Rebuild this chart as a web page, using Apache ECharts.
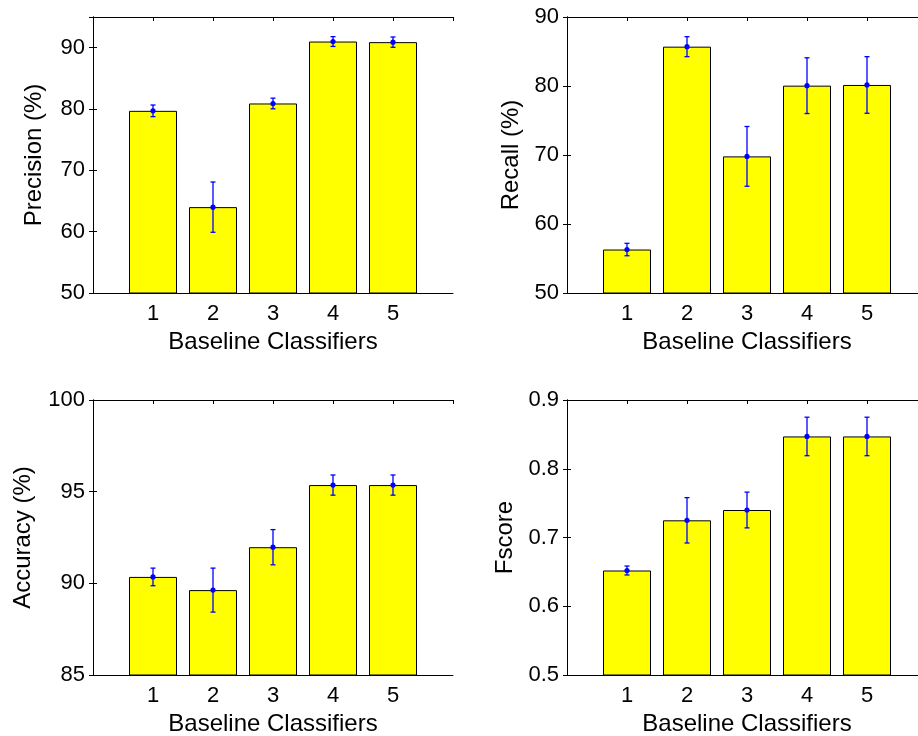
<!DOCTYPE html>
<html>
<head>
<meta charset="utf-8">
<script src="https://cdn.jsdelivr.net/npm/echarts@6/dist/echarts.min.js"></script>
<style>
  html, body { margin: 0; padding: 0; background: #fff; }
  #main { width: 918px; height: 736px; }
</style>
</head>
<body>
<div id="main"></div>
<script>
var classifiers = ['1', '2', '3', '4', '5'];

var precision = [79.7, 64.0, 80.9, 91.0, 90.9];
var precision_err = [0.95, 4.1, 0.87, 0.8, 0.84];

var recall = [56.3, 85.7, 69.8, 80.05, 80.15];
var recall_err = [0.9, 1.45, 4.33, 4.04, 4.1];

var accuracy = [90.35, 89.63, 91.97, 95.36, 95.36];
var accuracy_err = [0.48, 1.2, 0.96, 0.55, 0.55];

var fscore = [0.652, 0.725, 0.740, 0.847, 0.847];
var fscore_err = [0.0065, 0.033, 0.026, 0.028, 0.028];

var FONT = 'Liberation Sans, Arial, sans-serif';

// plot boxes, matlab style subplot(2,2,k)
var panels = [
    {name: 'Precision (%)', vals: precision, errs: precision_err, min: 50, max: 95, step: 10, gap: 47, left: 93, top: 17, height: 276},
    {name: 'Recall (%)', vals: recall, errs: recall_err, min: 50, max: 90, step: 10, gap: 44, left: 567, top: 17, height: 276},
    {name: 'Accuracy (%)', vals: accuracy, errs: accuracy_err, min: 85, max: 100, step: 5, gap: 58, left: 93, top: 400, height: 275},
    {name: 'Fscore', vals: fscore, errs: fscore_err, min: 0.5, max: 0.9, step: 0.1, gap: 50, left: 567, top: 400, height: 275}
];

function renderErr(params, api){
    var x = api.value(0), m = api.value(1), e = api.value(2);
    var hi = api.coord([x, m + e]);
    var lo = api.coord([x, m - e]);
    var mid = api.coord([x, m]);
    var cap = 2.5;
    var st = {stroke: '#0000ff', lineWidth: 1.3};
    return {
        type: 'group',
        children: [
            {type: 'line', shape: {x1: hi[0], y1: hi[1], x2: lo[0], y2: lo[1]}, style: st},
            {type: 'line', shape: {x1: hi[0] - cap, y1: hi[1], x2: hi[0] + cap, y2: hi[1]}, style: st},
            {type: 'line', shape: {x1: lo[0] - cap, y1: lo[1], x2: lo[0] + cap, y2: lo[1]}, style: st},
            {type: 'circle', shape: {cx: mid[0], cy: mid[1], r: 2.6}, style: {fill: '#0000ff'}}
        ]
    };
}

var option = {
    animation: false,
    backgroundColor: '#fff',
    grid: [],
    xAxis: [],
    yAxis: [],
    series: []
};

var lineSt = {show: true, lineStyle: {color: '#000', width: 1}};

for (var i = 0; i < panels.length; i++) {
    var p = panels[i];
    option.grid.push({left: p.left, top: p.top, width: 360, height: p.height, outerBoundsMode: 'none', containLabel: false});

    // bottom axis with labels, top axis only for the inward ticks
    option.xAxis.push({
        type: 'value', gridIndex: i, min: 0, max: 6, interval: 1, position: 'bottom',
        axisLine: lineSt, axisTick: {show: false}, splitLine: {show: false},
        axisLabel: {
            color: '#000', fontFamily: FONT, fontSize: 22, margin: 10,
            formatter: function(v){ return (v >= 1 && v <= classifiers.length) ? classifiers[v - 1] : ''; }
        },
        name: 'Baseline Classifiers', nameLocation: 'middle', nameGap: 37,
        nameTextStyle: {color: '#000', fontFamily: FONT, fontSize: 24}
    });
    option.xAxis.push({
        type: 'value', gridIndex: i, min: 0, max: 6, interval: 1, position: 'top',
        axisLine: lineSt, axisTick: {show: true, inside: true, length: 4, lineStyle: {color: '#000'}},
        axisLabel: {show: false}, splitLine: {show: false}
    });

    var step = p.step;
    var pmin = p.min;
    option.yAxis.push({
        type: 'value', gridIndex: i, min: p.min, max: p.max, interval: p.step, position: 'left',
        axisLine: lineSt, axisTick: {show: true, inside: true, length: 4, lineStyle: {color: '#000'}},
        splitLine: {show: false},
        axisLabel: {
            color: '#000', fontFamily: FONT, fontSize: 22, margin: 8,
            formatter: (function(s, mn){
                return function(v){
                    var k = Math.round((v - mn) / s);
                    if (Math.abs(mn + k * s - v) > 1e-6) return '';
                    return s < 1 ? v.toFixed(1) : String(Math.round(v));
                };
            })(step, pmin)
        },
        name: p.name, nameLocation: 'middle', nameGap: p.gap, nameRotate: 90,
        nameTextStyle: {color: '#000', fontFamily: FONT, fontSize: 24}
    });
    option.yAxis.push({
        type: 'value', gridIndex: i, min: p.min, max: p.max, interval: p.step, position: 'right',
        axisLine: lineSt, axisTick: {show: true, inside: true, length: 4, lineStyle: {color: '#000'}},
        axisLabel: {show: false}, splitLine: {show: false}
    });

    var barData = [], errData = [];
    for (var j = 0; j < classifiers.length; j++) {
        barData.push([j + 1, p.vals[j]]);
        errData.push([j + 1, p.vals[j], p.errs[j]]);
    }
    option.series.push({
        type: 'bar', xAxisIndex: i * 2, yAxisIndex: i * 2, data: barData, barWidth: 48,
        itemStyle: {color: '#ffff00', borderColor: '#000', borderWidth: 1}
    });
    option.series.push({
        type: 'custom', xAxisIndex: i * 2, yAxisIndex: i * 2, data: errData,
        renderItem: renderErr, encode: {x: 0, y: 1}, z: 5
    });
}

var myChart = echarts.init(document.getElementById('main'));
myChart.setOption(option);
</script>
</body>
</html>
